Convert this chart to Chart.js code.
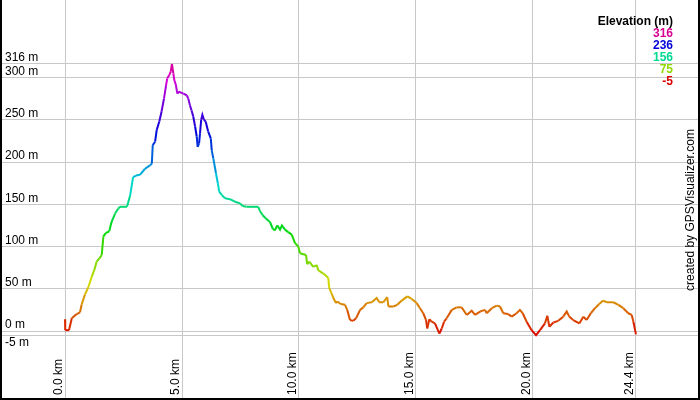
<!DOCTYPE html>
<html>
<head>
<meta charset="utf-8">
<script src="https://cdn.jsdelivr.net/npm/chart.js@4"></script>
<style>
html,body{margin:0;padding:0;background:#fff;}
canvas{display:block;}
</style>
</head>
<body>
<canvas id="c" width="700" height="400"></canvas>
<script>
// ---- data ----
const distKm = [0,0.01,0.17,0.29,0.50,0.64,0.71,0.85,1.00,1.14,1.25,1.35,1.47,1.57,1.64,1.75,1.89,1.99,2.14,2.28,2.35,2.65,2.78,2.91,3.03,3.21,3.42,3.63,3.71,3.75,3.85,3.92,4.03,4.13,4.23,4.32,4.37,4.46,4.52,4.57,4.63,4.67,4.74,4.80,4.88,5.06,5.20,5.27,5.34,5.41,5.48,5.56,5.63,5.67,5.73,5.77,5.82,5.87,5.94,6.01,6.12,6.23,6.27,6.34,6.45,6.53,6.59,6.70,6.84,7.05,7.26,7.48,7.59,7.76,8.26,8.33,8.45,8.59,8.76,8.88,8.97,9.07,9.19,9.27,9.40,9.54,9.69,9.83,9.97,10.04,10.30,10.35,10.44,10.61,10.76,10.82,11.04,11.25,11.29,11.40,11.47,11.58,11.64,11.78,11.97,12.06,12.18,12.32,12.44,12.61,12.75,12.89,13.11,13.32,13.43,13.60,13.77,13.82,14.03,14.20,14.39,14.63,14.82,15.03,15.17,15.31,15.43,15.48,15.57,15.67,15.81,16.00,16.10,16.20,16.31,16.53,16.74,16.95,17.17,17.38,17.52,17.74,17.95,18.02,18.24,18.45,18.59,18.73,18.94,19.09,19.30,19.44,19.56,19.73,19.94,20.13,20.30,20.51,20.61,20.70,20.87,21.08,21.29,21.44,21.55,21.72,21.98,22.15,22.29,22.47,22.65,22.83,23.00,23.15,23.43,23.65,23.86,24.07,24.22,24.29,24.4];
const elevM = [14,1,1,15,20,22,31,43,52,64,72,82,86,90,112,116,118,129,139,145,147,147,160,182,184,185,192,196,198,220,224,238,248,260,275,291,299,303,307,316,305,297,291,281,283,281,279,275,267,261,254,242,230,218,222,234,250,256,250,248,236,228,214,204,187,175,165,161,157,156,153,151,148,147,147,142,137,133,129,121,119,125,120,125,120,117,114,104,100,92,90,79,82,76,78,72,68,63,51,44,39,33,35,32,31,25,13,12,15,25,28,33,34,39,34,34,40,29,29,31,36,41,38,33,27,21,13,3,14,11,9,-3,3,11,15,25,28,28,19,24,19,23,25,21,27,30,29,21,20,17,21,25,21,11,1,-5,1,9,18,5,10,12,17,23,17,13,9,17,13,21,27,32,36,34,34,31,27,21,19,11,-4];
const xTickValues = [0, 5, 10, 15, 20, 24.4];
const yTickValues = [-5, 0, 50, 100, 150, 200, 250, 300, 316];
const legendValues = [316, 236, 156, 75, -5];
const elevMin = -5, elevMax = 316;

// ---- colours ----
function hsv(h, s, v) {
  const f = (n) => { const k = (n + h / 60) % 6; return v - v * s * Math.max(0, Math.min(k, 4 - k, 1)); };
  return `rgb(${Math.round(f(5) * 255)},${Math.round(f(3) * 255)},${Math.round(f(1) * 255)})`;
}
function colorFor(e) {
  const t = Math.max(0, Math.min(1, (e - elevMin) / (elevMax - elevMin)));
  return hsv(320 * t, 1, 0.85);
}

const FONT = "'Liberation Sans', Arial, sans-serif";
Chart.defaults.font.family = FONT;
Chart.defaults.font.size = 12;
Chart.defaults.color = '#000';

const points = distKm.map((d, i) => ({ x: d, y: elevM[i] }));

function noPad(s) {
  s.paddingTop = 0; s.paddingBottom = 0; s.paddingLeft = 0; s.paddingRight = 0;
}

const decor = {
  id: 'decor',
  beforeDraw(chart) {
    const c = chart.ctx;
    c.save();
    c.fillStyle = '#fff';
    c.fillRect(0, 0, chart.width, chart.height);
    c.restore();
  },
  afterDraw(chart) {
    const c = chart.ctx;
    const xs = chart.scales.x;
    c.save();
    // x tick labels, rotated, reading upward from the bottom
    c.fillStyle = '#000';
    c.font = '12px ' + FONT;
    c.textAlign = 'left';
    c.textBaseline = 'middle';
    xs.ticks.forEach(t => {
      const px = xs.getPixelForValue(t.value);
      c.save();
      c.translate(px - 6, 395);
      c.rotate(-Math.PI / 2);
      c.fillText(t.value.toFixed(1) + ' km', 0, 0);
      c.restore();
    });
    // legend
    c.textAlign = 'right';
    c.font = 'bold 12px ' + FONT;
    c.fillStyle = '#000';
    c.fillText('Elevation (m)', 673, 22);
    legendValues.forEach((v, i) => {
      c.fillStyle = colorFor(v);
      c.fillText(String(v), 673, 34 + i * 11.8);
    });
    // credit
    c.save();
    c.translate(691, 210);
    c.rotate(-Math.PI / 2);
    c.textAlign = 'center';
    c.font = '12px ' + FONT;
    c.fillStyle = '#000';
    c.fillText('created by GPSVisualizer.com', 0, 0);
    c.restore();
    // frame
    c.fillStyle = '#000';
    c.fillRect(0, 0, 2, 400);
    c.fillRect(698, 0, 2, 400);
    c.fillRect(0, 398, 700, 2);
    c.restore();
  }
};

new Chart(document.getElementById('c'), {
  type: 'line',
  data: {
    datasets: [{
      data: points,
      borderWidth: 2,
      pointRadius: 0,
      tension: 0,
      fill: false,
      segment: {
        borderColor: ctx => colorFor((ctx.p0.parsed.y + ctx.p1.parsed.y) / 2)
      },
      borderColor: colorFor(0)
    }]
  },
  options: {
    responsive: false,
    animation: false,
    layout: { padding: 0 },
    plugins: { legend: { display: false }, tooltip: { enabled: false } },
    scales: {
      x: {
        type: 'linear',
        min: -65 / 23.4,
        max: 635 / 23.4,
        afterBuildTicks: s => { s.ticks = xTickValues.map(v => ({ value: v })); },
        afterFit: s => { s.height = 0; noPad(s); },
        ticks: { display: false, autoSkip: false },
        grid: { color: '#c8c8c8', lineWidth: 1, tickLength: 0 },
        border: { display: false }
      },
      y: {
        type: 'linear',
        min: -69 / 0.845,
        max: 331 / 0.845,
        afterBuildTicks: s => { s.ticks = yTickValues.map(v => ({ value: v })); },
        afterFit: s => { s.width = 0; noPad(s); },
        ticks: {
          mirror: true,
          padding: 5,
          labelOffset: -6,
          crossAlign: 'near',
          autoSkip: false,
          color: '#000',
          font: { size: 12, lineHeight: 1.1 },
          callback: v => v === -5 ? ['', '', '-5 m'] : v + ' m'
        },
        grid: { color: '#c8c8c8', lineWidth: 1, tickLength: 0 },
        border: { display: false }
      }
    }
  },
  plugins: [decor]
});
</script>
</body>
</html>
